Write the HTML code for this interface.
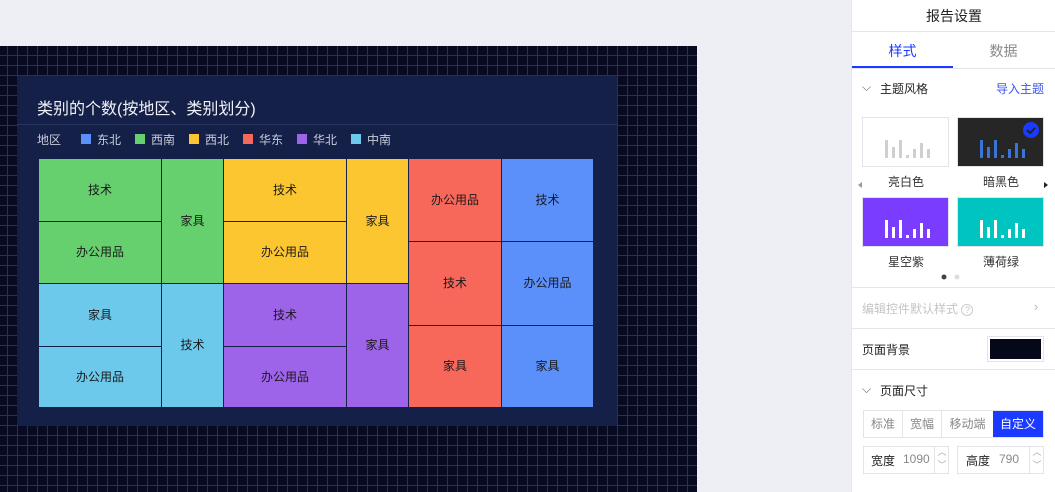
<!DOCTYPE html>
<html><head><meta charset="utf-8"><style>
*{margin:0;padding:0;box-sizing:border-box}
body{width:1055px;height:492px;overflow:hidden;background:#eeeff4;font-family:"Liberation Sans","Noto Sans CJK SC",sans-serif;position:relative}
.a{position:absolute}
#canvas{left:0;top:46px;width:697px;height:446px;background-color:#070a20;
background-image:linear-gradient(to right,#2a3052 1px,transparent 1px),linear-gradient(to bottom,#2a3052 1px,transparent 1px);
background-size:10px 10px;background-position:7px 9px}
#card{left:17px;top:76px;width:600px;height:350px;background:#152048;border-radius:2px}
.c{position:absolute;display:flex;align-items:center;justify-content:center;font-size:12px;color:#1a1a1a;border-right:1px solid #152048;border-bottom:1px solid #152048;padding-bottom:2px}
.lg{position:absolute;top:131px;font-size:12px;color:#c8ccd8}
.sw{position:absolute;top:134px;width:10px;height:10px}
#panel{left:851px;top:0;width:204px;height:492px;background:#fff;border-left:1px solid #e5e6eb}
.t{position:absolute;font-size:12px;color:#333}
.hr{position:absolute;left:0;width:204px;height:1px;background:#e5e6eb}
</style></head><body>
<div class="a" id="canvas"></div>
<div class="a" id="card"></div>
<div class="a" style="left:37px;top:95px;font-size:16px;color:#f0f2f8">类别的个数(按地区、类别划分)</div>
<div class="a" style="left:17px;top:124px;width:600px;height:1px;background:#2a3660"></div>
<div class="lg" style="left:37px">地区</div>
<div class="sw" style="left:81px;background:#5b8ff9"></div><div class="lg" style="left:97px">东北</div>
<div class="sw" style="left:135px;background:#66cf6e"></div><div class="lg" style="left:151px">西南</div>
<div class="sw" style="left:189px;background:#fcc630"></div><div class="lg" style="left:205px">西北</div>
<div class="sw" style="left:243px;background:#f7675a"></div><div class="lg" style="left:259px">华东</div>
<div class="sw" style="left:297px;background:#9d63e8"></div><div class="lg" style="left:313px">华北</div>
<div class="sw" style="left:351px;background:#6cc9ec"></div><div class="lg" style="left:367px">中南</div>

<div class="c" style="left:39px;top:159px;width:123px;height:63px;background:#66cf6e">技术</div>
<div class="c" style="left:39px;top:222px;width:123px;height:62px;background:#66cf6e">办公用品</div>
<div class="c" style="left:162px;top:159px;width:62px;height:125px;background:#66cf6e">家具</div>
<div class="c" style="left:39px;top:284px;width:123px;height:63px;background:#6cc9ec">家具</div>
<div class="c" style="left:39px;top:347px;width:123px;height:61px;background:#6cc9ec">办公用品</div>
<div class="c" style="left:162px;top:284px;width:62px;height:124px;background:#6cc9ec">技术</div>
<div class="c" style="left:224px;top:159px;width:123px;height:63px;background:#fcc630">技术</div>
<div class="c" style="left:224px;top:222px;width:123px;height:62px;background:#fcc630">办公用品</div>
<div class="c" style="left:347px;top:159px;width:62px;height:125px;background:#fcc630">家具</div>
<div class="c" style="left:224px;top:284px;width:123px;height:63px;background:#9d63e8">技术</div>
<div class="c" style="left:224px;top:347px;width:123px;height:61px;background:#9d63e8">办公用品</div>
<div class="c" style="left:347px;top:284px;width:62px;height:124px;background:#9d63e8">家具</div>
<div class="c" style="left:409px;top:159px;width:93px;height:83px;background:#f7675a">办公用品</div>
<div class="c" style="left:409px;top:242px;width:93px;height:84px;background:#f7675a">技术</div>
<div class="c" style="left:409px;top:326px;width:93px;height:82px;background:#f7675a">家具</div>
<div class="c" style="left:502px;top:159px;width:91px;height:83px;background:#5b8ff9;border-right:none">技术</div>
<div class="c" style="left:502px;top:242px;width:91px;height:84px;background:#5b8ff9;border-right:none">办公用品</div>
<div class="c" style="left:502px;top:326px;width:91px;height:82px;background:#5b8ff9;border-right:none">家具</div>

<div class="a" id="panel">
<div class="t" style="left:0;width:204px;text-align:center;top:6px;font-size:14px;color:#222">报告设置</div>
<div class="hr" style="top:31px"></div>
<div class="t" style="left:0;width:101px;text-align:center;top:41px;font-size:14px;color:#1a3bff">样式</div>
<div class="t" style="left:101px;width:101px;text-align:center;top:41px;font-size:14px;color:#888">数据</div>
<div class="a" style="left:0;top:66px;width:101px;height:2px;background:#1a3bff"></div>
<div class="hr" style="top:68px"></div>
<div class="t" style="left:10px;top:80px;color:#666">⌵</div>
<div class="t" style="left:28px;top:80px;color:#222">主题风格</div>
<div class="t" style="left:144px;top:80px;color:#3a55f0">导入主题</div>
<svg class="a" style="left:0;top:110px" width="204" height="170">
<rect x="10.5" y="7.5" width="86" height="49" fill="#fff" stroke="#e3e3e8"/>
<g fill="#cfcfcf"><rect x="33" y="30" width="3" height="18"/><rect x="40" y="37" width="3" height="11"/><rect x="47" y="30" width="3" height="18"/><rect x="54" y="45" width="3" height="3"/><rect x="61" y="39" width="3" height="9"/><rect x="68" y="33" width="3" height="15"/><rect x="75" y="39" width="3" height="9"/></g>
<rect x="105.5" y="7.5" width="86" height="49" fill="#262626" stroke="#e3e3e8"/>
<g fill="#3a74d8"><rect x="128" y="30" width="3" height="18"/><rect x="135" y="37" width="3" height="11"/><rect x="142" y="30" width="3" height="18"/><rect x="149" y="45" width="3" height="3"/><rect x="156" y="39" width="3" height="9"/><rect x="163" y="33" width="3" height="15"/><rect x="170" y="39" width="3" height="9"/></g>
<circle cx="179" cy="20" r="8" fill="#1a3bff"/><path d="M175 20l3 3 5-5" stroke="#222" stroke-width="2" fill="none"/>
<rect x="10.5" y="87.5" width="86" height="49" fill="#7a3cff" stroke="#e3e3e8"/>
<g fill="#fff"><rect x="33" y="110" width="3" height="18"/><rect x="40" y="117" width="3" height="11"/><rect x="47" y="110" width="3" height="18"/><rect x="54" y="125" width="3" height="3"/><rect x="61" y="119" width="3" height="9"/><rect x="68" y="113" width="3" height="15"/><rect x="75" y="119" width="3" height="9"/></g>
<rect x="105.5" y="87.5" width="86" height="49" fill="#00c4bf" stroke="#e3e3e8"/>
<g fill="#fff"><rect x="128" y="110" width="3" height="18"/><rect x="135" y="117" width="3" height="11"/><rect x="142" y="110" width="3" height="18"/><rect x="149" y="125" width="3" height="3"/><rect x="156" y="119" width="3" height="9"/><rect x="163" y="113" width="3" height="15"/><rect x="170" y="119" width="3" height="9"/></g>
<path d="M6 75l4-3v6z" fill="#999"/><path d="M192 72l4 3-4 3z" fill="#222"/>
<circle cx="92" cy="167" r="2.5" fill="#444"/><circle cx="105" cy="167" r="2.5" fill="#ddd"/>
</svg>
<div class="t" style="left:36px;top:173px">亮白色</div>
<div class="t" style="left:131px;top:173px">暗黑色</div>
<div class="t" style="left:36px;top:253px">星空紫</div>
<div class="t" style="left:131px;top:253px">薄荷绿</div>
<div class="hr" style="top:287px"></div>
<div class="t" style="left:10px;top:300px;color:#c4c4c8">编辑控件默认样式 <span style="display:inline-block;width:12px;height:12px;border:1px solid #ccc;border-radius:50%;font-size:9px;text-align:center;line-height:10px">?</span></div>
<div class="t" style="left:182px;top:299px;color:#bbb;font-size:13px">›</div>
<div class="hr" style="top:328px"></div>
<div class="t" style="left:10px;top:341px;color:#222">页面背景</div>
<div class="a" style="left:135px;top:336px;width:57px;height:26px;border:1px solid #e3e3e8;padding:2px"><div style="width:100%;height:100%;background:#050818"></div></div>
<div class="hr" style="top:369px"></div>
<div class="t" style="left:10px;top:382px;color:#666">⌵</div>
<div class="t" style="left:28px;top:382px;color:#222">页面尺寸</div>
<div class="a" style="left:11px;top:410px;width:181px;height:28px;border:1px solid #e3e3e8;display:flex;font-size:12px;color:#888">
<div style="width:39px;text-align:center;line-height:26px;border-right:1px solid #e3e3e8">标准</div>
<div style="width:39px;text-align:center;line-height:26px;border-right:1px solid #e3e3e8">宽幅</div>
<div style="width:51px;text-align:center;line-height:26px">移动端</div>
<div style="flex:1;text-align:center;line-height:26px;background:#1a3bff;color:#fff">自定义</div></div>
<div class="a" style="left:11px;top:446px;width:86px;height:28px;border:1px solid #e3e3e8"></div>
<div class="a" style="left:82px;top:446px;width:15px;height:28px;border-left:1px solid #e3e3e8;font-size:9px;color:#aaa;text-align:center;line-height:13px">︿<br>﹀</div>
<div class="t" style="left:19px;top:452px;color:#222">宽度</div>
<div class="t" style="left:51px;top:452px;color:#888">1090</div>
<div class="a" style="left:105px;top:446px;width:87px;height:28px;border:1px solid #e3e3e8"></div>
<div class="a" style="left:177px;top:446px;width:15px;height:28px;border-left:1px solid #e3e3e8;font-size:9px;color:#aaa;text-align:center;line-height:13px">︿<br>﹀</div>
<div class="t" style="left:114px;top:452px;color:#222">高度</div>
<div class="t" style="left:147px;top:452px;color:#888">790</div>
</div>
</body></html>
